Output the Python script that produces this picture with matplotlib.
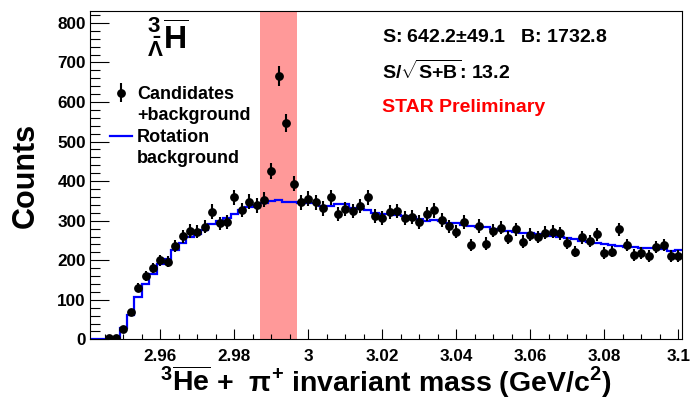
import numpy as np
import matplotlib
matplotlib.use('Agg')
import matplotlib.pyplot as plt
from matplotlib.ticker import MultipleLocator, FuncFormatter
from matplotlib.lines import Line2D

# 直方图的分bin: 80 个 bin, 宽 0.002 GeV
bin_lo = 2.941
bin_w = 0.002
n_bins = 80

# Candidates + background (前两个 bin 是空的)
counts = [np.nan, np.nan, 3, 3, 27, 68, 131, 160, 180, 200,
          196, 236, 261, 274, 272, 285, 323, 293, 296, 359,
          327, 348, 339, 353, 425, 666, 547, 394, 346, 356,
          346, 331, 359, 318, 329, 325, 337, 359, 311, 307,
          321, 325, 307, 309, 297, 316, 326, 302, 286, 272,
          296, 238, 287, 242, 275, 282, 257, 278, 247, 265,
          259, 270, 272, 268, 243, 222, 258, 249, 266, 219,
          222, 278, 238, 213, 219, 211, 234, 238, 211, 211]

# Rotation background
rot_bg = [0, 0, 1, 2, 28, 62, 106, 141, 166, 190,
          202, 226, 243, 258, 266, 277, 291, 300, 306, 316,
          326, 334, 339, 345, 350, 353, 348, 347, 345, 344,
          344, 337, 336, 342, 341, 333, 330, 327, 320, 318,
          317, 315, 313, 310, 304, 300, 301, 298, 295, 293,
          290, 287, 285, 283, 279, 277, 275, 272, 270, 268,
          266, 264, 262, 259, 257, 254, 249, 246, 244, 241,
          239, 237, 234, 233, 231, 230, 231, 229, 223, 225]

signal_window = (2.987, 2.997)
y_ticks = [0, 100, 200, 300, 400, 500, 600, 700, 800]

edges = bin_lo + bin_w * np.arange(n_bins + 1)
centers = 0.5 * (edges[:-1] + edges[1:])
counts = np.array(counts, dtype=float)
errs = np.sqrt(counts)

plt.rcParams['font.family'] = ['Liberation Sans', 'DejaVu Sans']
plt.rcParams['font.weight'] = 'bold'
plt.rcParams['mathtext.fontset'] = 'custom'
plt.rcParams['mathtext.rm'] = 'Liberation Sans:bold'
plt.rcParams['mathtext.bf'] = 'Liberation Sans:bold'
plt.rcParams['mathtext.it'] = 'Liberation Sans:bold'
plt.rcParams['mathtext.default'] = 'rm'

fig = plt.figure(figsize=(6.95, 4.01), dpi=100)
ax = fig.add_axes([0.1295, 0.1536, 0.8518, 0.819])

ax.axvspan(signal_window[0], signal_window[1], color='#ff9999', lw=0, zorder=0)
bg = ax.stairs(rot_bg, edges, color='blue', lw=1.6, baseline=None, zorder=2)
eb = ax.errorbar(centers, counts, yerr=errs, fmt='o', color='black', ms=5.3,
                 elinewidth=1.5, capsize=0, zorder=3)

ax.set_xlim(edges[0], edges[-1])
ax.set_ylim(0, 830)
ax.set_yticks(y_ticks)
ax.xaxis.set_major_locator(MultipleLocator(0.02))
ax.xaxis.set_minor_locator(MultipleLocator(0.005))
ax.yaxis.set_minor_locator(MultipleLocator(20))
ax.xaxis.set_major_formatter(FuncFormatter(lambda v, p: f'{v:g}'))

ax.tick_params(axis='both', which='both', direction='in', top=False, right=False,
               width=0.8, labelsize=12.3)
ax.tick_params(axis='y', which='major', length=13.7, pad=3)
ax.tick_params(axis='y', which='minor', length=7.2)
ax.tick_params(axis='x', which='major', length=7.2, pad=7)
ax.tick_params(axis='x', which='minor', length=3.6)
for s in ax.spines.values():
    s.set_linewidth(0.8)

fig.text(26 / 695, 1 - 175 / 401, 'Counts', rotation=90, ha='center', va='center',
         fontsize=22, fontweight='bold')
fig.text(386 / 695, 1 - 392 / 401,
         r'$^{3}\overline{\mathrm{He}}$ +  $\pi^{+}$ invariant mass (GeV/c$^{2}$)',
         ha='center', va='baseline', fontsize=20.5, fontweight='bold')

# 各种标注
ax.text(0.096, 0.92, r'${}^{3}_{\bar{\Lambda}}\overline{\mathrm{H}}$', transform=ax.transAxes,
        ha='left', va='center', fontsize=23)
ax.text(0.493, 0.919, r'S: 642.2$\pm$49.1   B: 1732.8', transform=ax.transAxes,
        ha='left', va='center', fontsize=14)
ax.text(0.493, 0.816, r'S/$\sqrt{\mathrm{S{+}B}}$: 13.2', transform=ax.transAxes,
        ha='left', va='center', fontsize=14)
ax.text(0.493, 0.705, 'STAR Preliminary', transform=ax.transAxes, color='red',
        ha='left', va='center', fontsize=14)

blank = Line2D([], [], ls='none')
ax.legend([eb, blank, bg, blank], ['Candidates', '+background', 'Rotation', 'background'],
          loc='center left', bbox_to_anchor=(0.0338, 0.648), frameon=False,
          fontsize=13, borderpad=0, borderaxespad=0, handlelength=1.2,
          handletextpad=0.3, labelspacing=0.25)

fig.savefig('out.png', dpi=100)
